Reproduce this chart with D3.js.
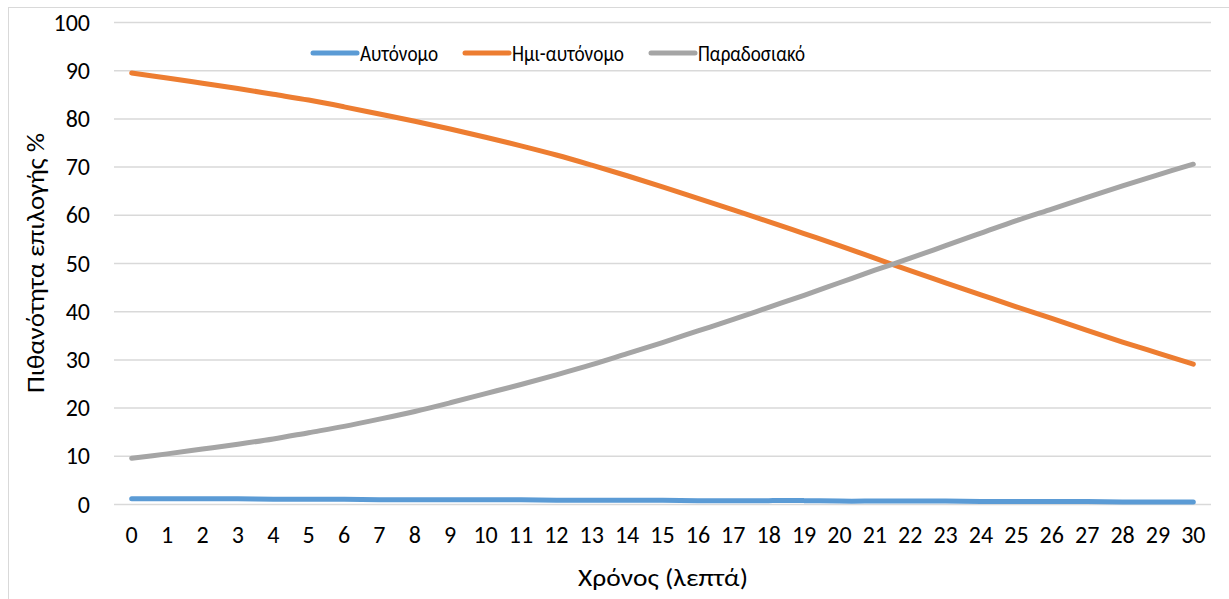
<!DOCTYPE html>
<html>
<head>
<meta charset="utf-8">
<script src="https://cdn.jsdelivr.net/npm/d3@7"></script>
<style>
  html, body { margin: 0; padding: 0; background: #fff; }
  svg { display: block; }
  text { font-family: Carlito, Calibri, Lato, "Open Sans", sans-serif; fill: #000; }
</style>
</head>
<body>
<svg id="chart" width="1229" height="599"></svg>
<script>
// Minutes on the horizontal axis
const minutes = d3.range(0, 31);

// Choice probability (%) for each mode
const autonomous = [1.1, 1.1, 1.1, 1.1, 1.0, 1.0, 1.0, 0.9, 0.9, 0.9, 0.9, 0.9, 0.8, 0.8, 0.8, 0.8,
                    0.7, 0.7, 0.7, 0.7, 0.6, 0.6, 0.6, 0.6, 0.5, 0.5, 0.5, 0.5, 0.4, 0.4, 0.4];
const semiAutonomous = [89.4, 88.4, 87.3, 86.2, 85.0, 83.8, 82.4, 80.9, 79.4, 77.8, 76.1, 74.3, 72.4, 70.3,
                        68.1, 65.8, 63.4, 61.0, 58.6, 56.1, 53.6, 51.0, 48.4, 45.9, 43.4, 40.9, 38.5,
                        36.0, 33.6, 31.3, 29.0];
const traditional = [9.5, 10.4, 11.4, 12.4, 13.5, 14.8, 16.1, 17.6, 19.2, 21.0, 22.9, 24.8, 26.8, 28.9,
                     31.2, 33.5, 35.9, 38.3, 40.8, 43.3, 45.9, 48.5, 51.0, 53.6, 56.2, 58.8, 61.2,
                     63.6, 66.0, 68.3, 70.5];

const seriesNames = ["Αυτόνομο", "Ημι-αυτόνομο", "Παραδοσιακό"];
const seriesColors = ["#5b9bd5", "#ed7d31", "#a5a5a5"];
const yTicks = [0, 10, 20, 30, 40, 50, 60, 70, 80, 90, 100];
const xTitle = "Χρόνος (λεπτά)";
const yTitle = "Πιθανότητα επιλογής %";

const series = [autonomous, semiAutonomous, traditional].map((vals, i) => ({
  name: seriesNames[i], color: seriesColors[i], values: vals
}));

const svg = d3.select("#chart");
const plot = { left: 114, right: 1211, top: 22, bottom: 504 };
const TICK_FONT = 24;
const TITLE_FONT = 24;
const LEGEND_FONT = 23;

// outer chart frame
svg.append("rect")
  .attr("x", 8.5).attr("y", 7.5)
  .attr("width", 1240).attr("height", 620)
  .attr("fill", "none").attr("stroke", "#d9d9d9").attr("stroke-width", 1);

const x = d3.scaleBand().domain(minutes).range([plot.left, plot.right]);
const y = d3.scaleLinear().domain([0, 100]).range([plot.bottom, plot.top]);
const cx = d => x(d) + x.bandwidth() / 2;

// horizontal gridlines + value labels
const yAxis = d3.axisLeft(y).tickValues(yTicks).tickSize(-(plot.right - plot.left)).tickPadding(24);
const gy = svg.append("g").attr("transform", `translate(${plot.left},0)`).call(yAxis);
gy.select(".domain").remove();
gy.selectAll(".tick line").attr("stroke", "#d9d9d9").attr("stroke-width", 1.5);
gy.selectAll(".tick text").attr("font-size", TICK_FONT).attr("font-family", null)
  .attr("fill", "#000").attr("dy", "0.34em");

// category labels
const xAxis = d3.axisBottom(x).tickSize(0).tickPadding(22);
const gx = svg.append("g").attr("transform", `translate(0,${plot.bottom})`).call(xAxis);
gx.select(".domain").remove();
gx.selectAll(".tick text").attr("font-size", TICK_FONT).attr("font-family", null).attr("fill", "#000");

// series lines
const line = d3.line()
  .x((d, i) => cx(minutes[i]))
  .y(d => y(d))
  .curve(d3.curveCatmullRom.alpha(0.5));

svg.append("g").selectAll("path")
  .data(series)
  .join("path")
  .attr("d", s => line(s.values))
  .attr("fill", "none")
  .attr("stroke", s => s.color)
  .attr("stroke-width", 5)
  .attr("stroke-linecap", "round")
  .attr("stroke-linejoin", "round");

// axis titles
svg.append("text")
  .attr("x", 663).attr("y", 586)
  .attr("text-anchor", "middle").attr("font-size", TITLE_FONT)
  .attr("textLength", 170).attr("lengthAdjust", "spacingAndGlyphs")
  .text(xTitle);

svg.append("text")
  .attr("transform", `translate(44,${(plot.top + plot.bottom) / 2}) rotate(-90)`)
  .attr("text-anchor", "middle").attr("font-size", TITLE_FONT)
  .attr("textLength", 260).attr("lengthAdjust", "spacingAndGlyphs")
  .text(yTitle);

// legend
const legendTextWidths = [78, 112, 107];
const sampleLen = 44, sampleGap = 3, itemGap = 27, legendY = 53, legendStart = 313;
const items = svg.append("g").selectAll("g").data(series).join("g");
items.append("line")
  .attr("x1", 0).attr("x2", sampleLen).attr("y1", 0).attr("y2", 0)
  .attr("stroke", d => d.color).attr("stroke-width", 5).attr("stroke-linecap", "round");
items.append("text")
  .attr("x", sampleLen + sampleGap).attr("y", 0).attr("dy", "0.34em")
  .attr("font-size", LEGEND_FONT)
  .attr("textLength", (d, i) => legendTextWidths[i]).attr("lengthAdjust", "spacingAndGlyphs")
  .text(d => d.name);
let offset = legendStart;
items.attr("transform", (d, i) => {
  const t = `translate(${offset},${legendY})`;
  offset += sampleLen + sampleGap + legendTextWidths[i] + itemGap;
  return t;
});
</script>
</body>
</html>
